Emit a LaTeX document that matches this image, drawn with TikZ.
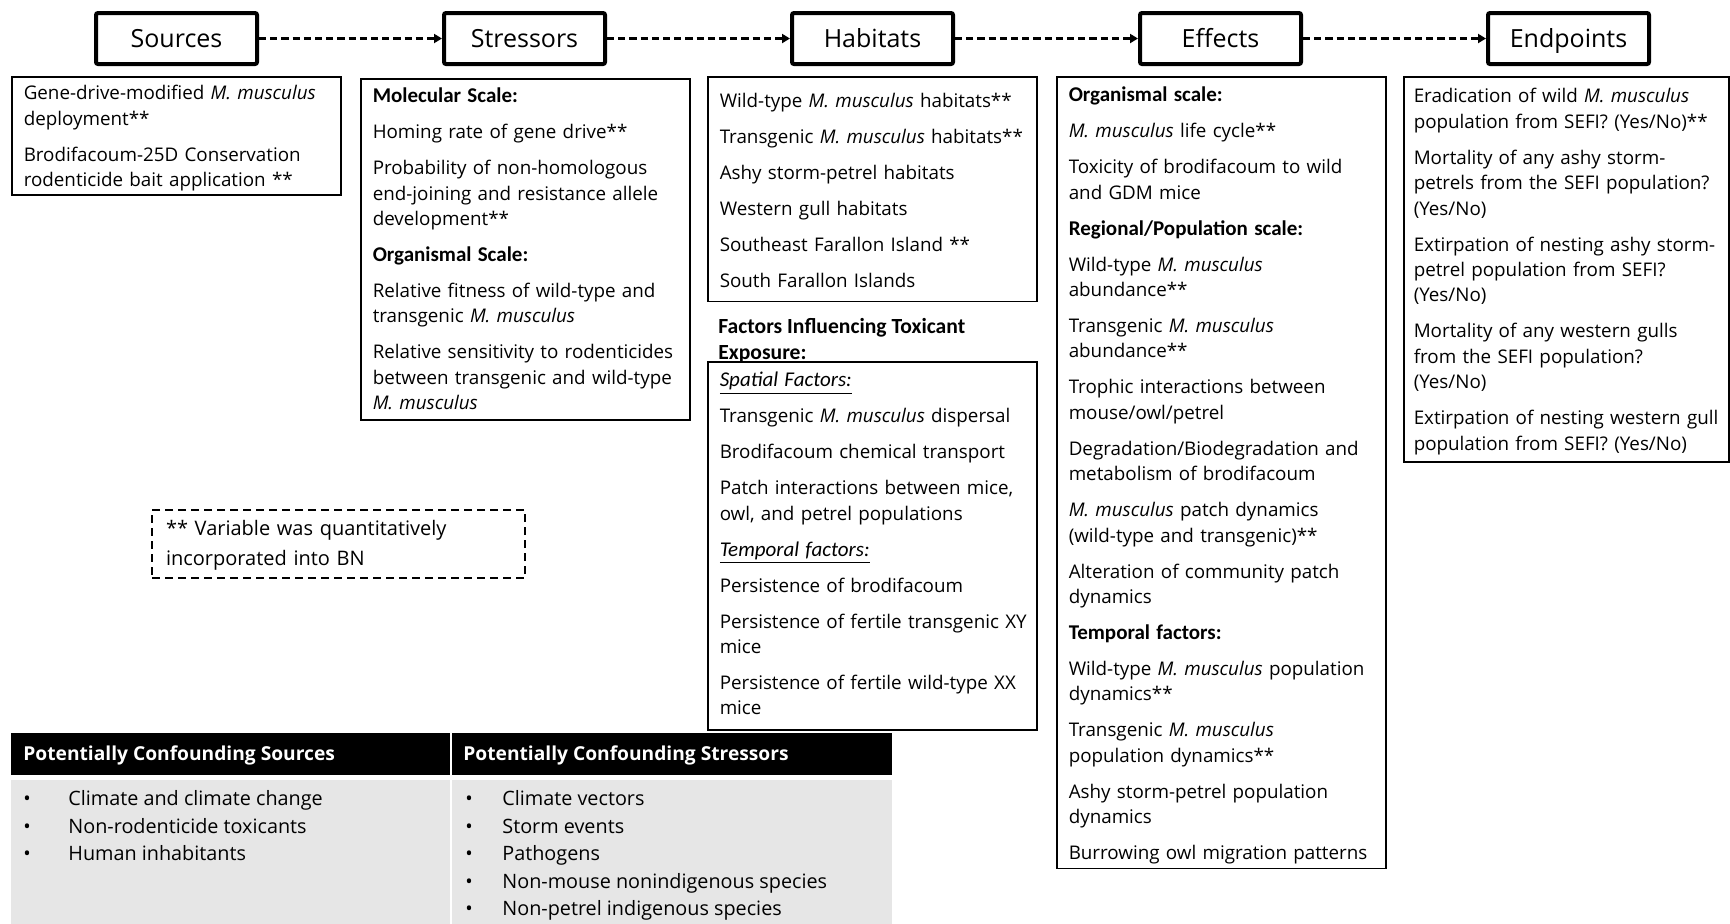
\documentclass[tikz,border=0pt]{standalone}
\usepackage{fontspec}
\setmainfont{Open Sans}
\newfontfamily\calib{Carlito}
\usetikzlibrary{arrows.meta,positioning}

\definecolor{tabgray}{RGB}{230,230,230}

\newcommand{\mm}{\textit{M.~musculus}}
\newcommand{\gap}{\\[5.3pt]}
\newcommand{\hd}[1]{{\fontsize{10.5}{12.7}\selectfont\calib\bfseries #1}}
\newcommand{\uit}[1]{{\fontsize{10.5}{12.7}\selectfont\calib\itshape\underline{#1}}}
\newcommand{\tstrut}[1]{\rule{0pt}{#1}}
\newcommand{\dstrut}[1]{\rule[-#1]{0pt}{#1}}

\tikzset{
  stage/.style={draw, line width=2pt, rounded corners=1pt, minimum width=80.5pt,
    minimum height=25.5pt, inner sep=0pt, text height=9pt, text depth=0pt,
    font=\fontsize{12.5}{15}\selectfont},
  flow/.style={line width=1.5pt, dash pattern=on 3.6pt off 2pt,
    -{Triangle[length=4pt,width=4.5pt]}},
  panel/.style={draw, line width=0.75pt, anchor=north west, align=left,
    inner xsep=6pt, inner ysep=2pt, text width=152.5pt,
    font=\fontsize{9.4}{12.7}\selectfont},
  tabhead/.style={anchor=west, text=white, inner sep=0pt,
    font=\fontsize{9.6}{12}\selectfont\bfseries},
  tabitem/.style={anchor=base west, inner sep=0pt, font=\fontsize{9.9}{12}\selectfont},
}

\begin{document}
\begin{tikzpicture}[x=0.5pt,y=-0.5pt]
  \useasboundingbox (0,0) rectangle (1730,923);

  % stage headers
  \node[stage] (src) at (176.5,38.5) {Sources};
  \node[stage, right=91.5pt of src] (str) {Stressors};
  \node[stage, right=91.5pt of str] (hab) {Habitats};
  \node[stage, right=91.5pt of hab] (eff) {Effects};
  \node[stage, right=91.5pt of eff] (endp) {Endpoints};
  \draw[flow] (src) -- (str);
  \draw[flow] (str) -- (hab);
  \draw[flow] (hab) -- (eff);
  \draw[flow] (eff) -- (endp);

  % panels under each stage
  \node[panel] (srcbox) at (11,76) {\tstrut{9.5pt}Gene-drive-modified \mm\\ deployment**\gap
    Brodifacoum-25D Conservation\\ rodenticide bait application **\dstrut{2.2pt}};

  \node[panel] (strbox) at (360,78) {\tstrut{10pt}\hd{Molecular Scale:}\gap
    Homing rate of gene drive**\gap
    Probability of non-homologous\\ end-joining and resistance allele\\ development**\gap
    \hd{Organismal Scale:}\gap
    Relative fitness of wild-type and\\ transgenic \mm\gap
    Relative sensitivity to rodenticides\\ between transgenic and wild-type\\ \mm\dstrut{3.2pt}};

  \node[panel, inner ysep=4pt] (habbox) at (707,76) {\tstrut{11.5pt}Wild-type \mm{} habitats**\gap
    Transgenic \mm{} habitats**\gap
    Ashy storm-petrel habitats\gap
    Western gull habitats\gap
    Southeast Farallon Island **\gap
    South Farallon Islands\dstrut{2.8pt}};

  \node[anchor=north west, inner sep=0pt, align=left,
    font=\fontsize{10.8}{13}\selectfont\calib\bfseries] (factitle) at (718,315)
    {\strut Factors Influencing Toxicant\\ Exposure:};

  \node[panel] (factbox) at (707,361) {\tstrut{10.5pt}\uit{Spatial Factors:}\gap
    Transgenic \mm{} dispersal\gap
    Brodifacoum chemical transport\gap
    Patch interactions between mice,\\ owl, and petrel populations\gap
    \uit{Temporal factors:}\gap
    Persistence of brodifacoum\gap
    \mbox{Persistence of fertile transgenic XY}\\ mice\gap
    Persistence of fertile wild-type XX\\ mice\dstrut{5.5pt}};

  \node[panel] (effbox) at (1056,76) {\tstrut{10.5pt}\hd{Organismal scale:}\gap
    \mm{} life cycle**\gap
    Toxicity of brodifacoum to wild\\ and GDM mice\gap
    \hd{Regional/Population scale:}\gap
    Wild-type \mm\\ abundance**\gap
    Transgenic \mm\\ abundance**\gap
    Trophic interactions between\\ mouse/owl/petrel\gap
    Degradation/Biodegradation and\\ metabolism of brodifacoum\gap
    \mm{} patch dynamics\\ (wild-type and transgenic)**\gap
    Alteration of community patch\\ dynamics\gap
    \hd{Temporal factors:}\gap
    Wild-type \mm{} population\\ dynamics**\gap
    Transgenic \mm\\ population dynamics**\gap
    Ashy storm-petrel population\\ dynamics\gap
    Burrowing owl migration patterns\dstrut{1.6pt}};

  \node[panel, inner xsep=5pt] (endbox) at (1403,76) {\tstrut{11.1pt}Eradication of wild \mm\\ population from SEFI? (Yes/No)**\gap
    Mortality of any ashy storm-\\ petrels from the SEFI population?\\ (Yes/No)\gap
    Extirpation of nesting ashy storm-\\ petrel population from SEFI?\\ (Yes/No)\gap
    Mortality of any western gulls\\ from the SEFI population?\\ (Yes/No)\gap
    Extirpation of nesting western gull\\ population from SEFI? (Yes/No)\dstrut{4pt}};

  % legend
  \node[draw, line width=1pt, dash pattern=on 4pt off 2.5pt, anchor=north west,
    align=left, inner xsep=7pt, inner ysep=2pt, text width=172.5pt,
    font=\fontsize{10}{15}\selectfont] (lgd) at (151,509)
    {\strut** Variable was quantitatively\\ incorporated into BN\strut};

  % confounding table
  \fill[black] (11,733) rectangle (892,775);
  \fill[tabgray] (11,780) rectangle (892,925);
  \draw[white, line width=1pt] (451,733) -- (451,925);
  \node[tabhead] (tsrc) at (23,755) {Potentially Confounding Sources};
  \node[tabhead] (tstr) at (463,755) {Potentially Confounding Stressors};
  \foreach \t [count=\i from 0] in {Climate and climate change, Non-rodenticide toxicants, Human inhabitants}
    \node[tabitem] (cs\i) at (68,805.5+27.5*\i) {\t};
  \foreach \t [count=\i from 0] in {Climate vectors, Storm events, Pathogens, Non-mouse nonindigenous species, Non-petrel indigenous species}
    \node[tabitem] (ct\i) at (502,805.5+27.5*\i) {\t};
  \foreach \i in {0,1,2}
    \node[tabitem] (bs\i) at (23,805.5+27.5*\i) {\textbullet};
  \foreach \i in {0,...,4}
    \node[tabitem] (bt\i) at (465,805.5+27.5*\i) {\textbullet};
\end{tikzpicture}
\end{document}
